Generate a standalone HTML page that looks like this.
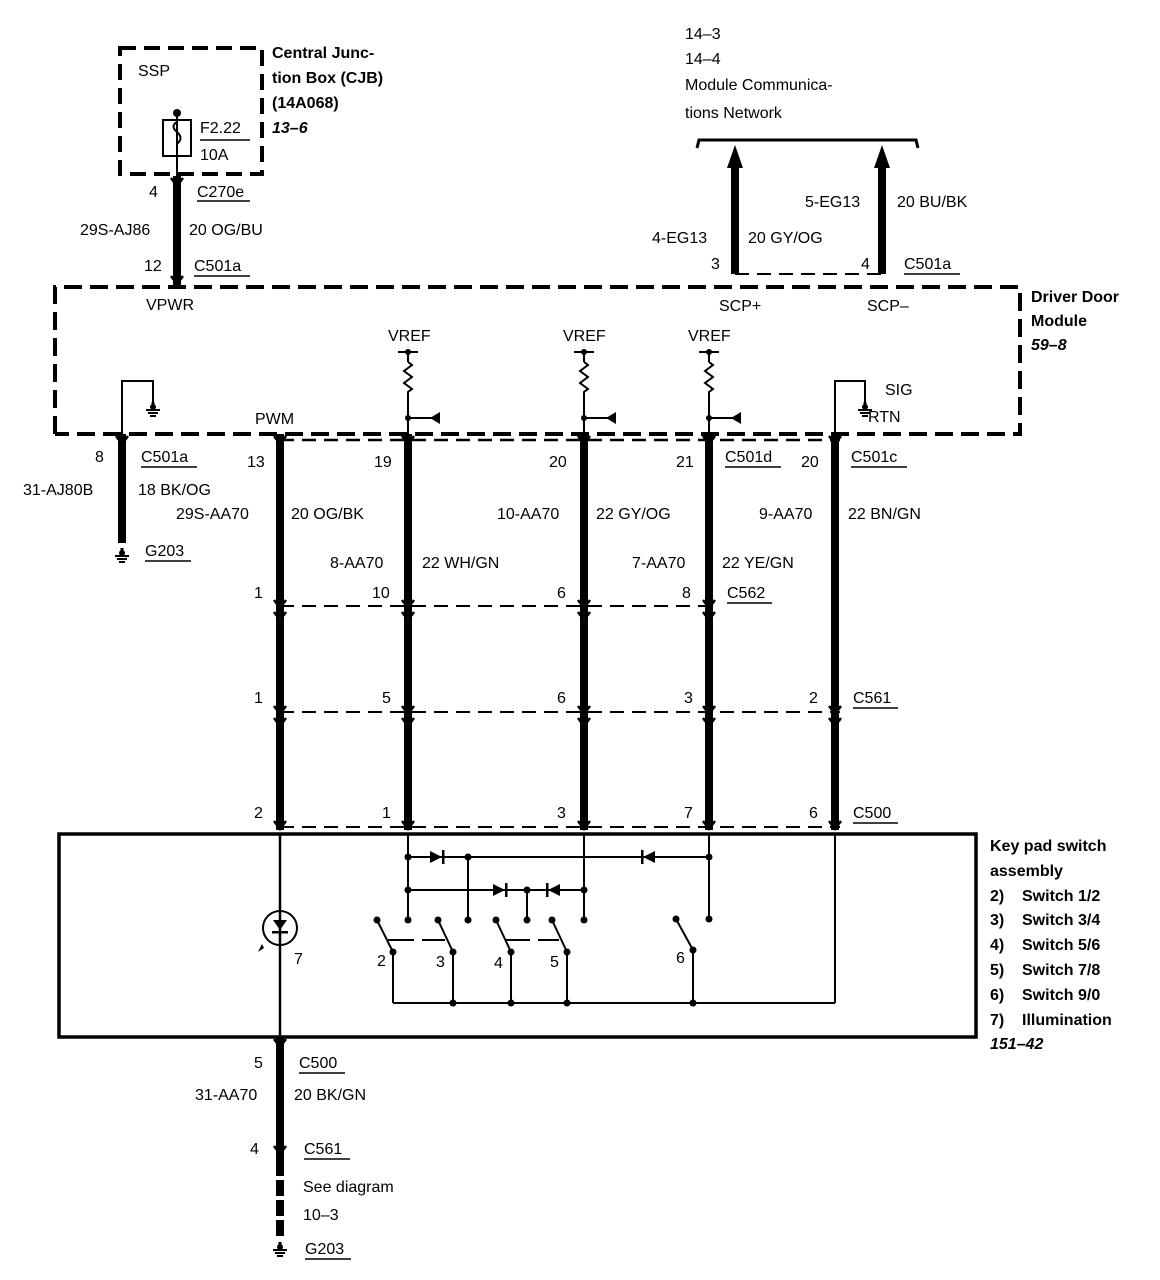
<!DOCTYPE html>
<html><head><meta charset="utf-8"><style>
html,body{margin:0;padding:0;background:#fff}
svg{display:block}
text{font-family:"Liberation Sans",sans-serif;font-size:16px;fill:#000}
.b{font-weight:bold}
.bi{font-weight:bold;font-style:italic}
</style></head><body>
<svg width="1160" height="1280" viewBox="0 0 1160 1280" xmlns="http://www.w3.org/2000/svg">
<defs>
<g id="gnd"><line x1="0" y1="-8" x2="0" y2="0" stroke="#000" stroke-width="3"/><circle cx="0" cy="-3" r="3"/><line x1="-7" y1="0" x2="7" y2="0" stroke="#000" stroke-width="2"/><line x1="-5" y1="3" x2="5" y2="3" stroke="#000" stroke-width="2"/><line x1="-3" y1="6" x2="3" y2="6" stroke="#000" stroke-width="2"/></g>
<g id="cn"><path d="M-6,-4 L0,4 L6,-4" fill="none" stroke="#000" stroke-width="2.5"/></g>
</defs>
<g fill="none" stroke="#000">
<rect x="120" y="48" width="142" height="126" stroke-width="4" stroke-dasharray="16,8"/>
<rect x="163" y="120" width="28" height="36" stroke-width="2"/>
<path d="M177,112 L177,122 Q170,126 177,132 Q184,138 177,144 L177,174" stroke-width="2"/>
<line x1="200" y1="140" x2="250" y2="140" stroke-width="1.5"/>
<path d="M55,434 L55,287 L1020,287 L1020,434 L55,434" stroke-width="4" stroke-dasharray="18,8"/>
<rect x="59" y="834" width="917" height="203" stroke-width="3.5"/>
<path d="M697,148 L699,140 L916,140 L918,148" stroke-width="3"/>
<line x1="280" y1="440" x2="840" y2="440" stroke-width="2.5" stroke-dasharray="14,8"/>
<line x1="280" y1="606" x2="715" y2="606" stroke-width="2" stroke-dasharray="14,8"/>
<line x1="280" y1="712" x2="840" y2="712" stroke-width="2" stroke-dasharray="14,8"/>
<line x1="280" y1="827" x2="840" y2="827" stroke-width="2" stroke-dasharray="14,8"/>
<line x1="735" y1="274" x2="882" y2="274" stroke-width="2" stroke-dasharray="14,8"/>
<line x1="177" y1="176" x2="177" y2="286" stroke-width="8"/>
<line x1="122" y1="434" x2="122" y2="543" stroke-width="8"/>
<line x1="280" y1="434" x2="280" y2="830" stroke-width="8"/>
<line x1="408" y1="434" x2="408" y2="830" stroke-width="8"/>
<line x1="584" y1="434" x2="584" y2="830" stroke-width="8"/>
<line x1="709" y1="434" x2="709" y2="830" stroke-width="8"/>
<line x1="835" y1="434" x2="835" y2="830" stroke-width="8"/>
<line x1="280" y1="1037" x2="280" y2="1160" stroke-width="8"/>
<line x1="280" y1="1160" x2="280" y2="1240" stroke-width="8" stroke-dasharray="16,4"/>
<line x1="735" y1="165" x2="735" y2="274" stroke-width="8"/>
<line x1="882" y1="165" x2="882" y2="274" stroke-width="8"/>
<line x1="177" y1="112" x2="177" y2="176" stroke-width="2"/>
<line x1="280" y1="834" x2="280" y2="1037" stroke-width="2.5"/>
<path d="M122,434 L122,381 L153,381 L153,405" stroke-width="2"/>
<path d="M835,434 L835,381 L865,381 L865,405" stroke-width="2"/>
<line x1="408" y1="352" x2="408" y2="434" stroke-width="2"/>
<line x1="584" y1="352" x2="584" y2="434" stroke-width="2"/>
<line x1="709" y1="352" x2="709" y2="434" stroke-width="2"/>
</g>
<g fill="none" stroke="#fff" stroke-width="4">
<line x1="408" y1="362" x2="408" y2="398"/><line x1="584" y1="362" x2="584" y2="398"/><line x1="709" y1="362" x2="709" y2="398"/>
</g>
<g fill="none" stroke="#000" stroke-width="2">
<path d="M408,362 l4,3 l-8,6 l8,6 l-8,6 l8,6 l-4,3 v6"/>
<path d="M584,362 l4,3 l-8,6 l8,6 l-8,6 l8,6 l-4,3 v6"/>
<path d="M709,362 l4,3 l-8,6 l8,6 l-8,6 l8,6 l-4,3 v6"/>
<line x1="398" y1="352" x2="418" y2="352"/><line x1="574" y1="352" x2="594" y2="352"/><line x1="699" y1="352" x2="719" y2="352"/>
<line x1="408" y1="418" x2="436" y2="418"/><line x1="584" y1="418" x2="612" y2="418"/><line x1="709" y1="418" x2="737" y2="418"/>
</g>
<g>
<circle cx="408" cy="352" r="3"/><circle cx="584" cy="352" r="3"/><circle cx="709" cy="352" r="3"/>
<circle cx="408" cy="418" r="3"/><circle cx="584" cy="418" r="3"/><circle cx="709" cy="418" r="3"/>
<path d="M430,418 L440,412 L440,424Z"/><path d="M606,418 L616,412 L616,424Z"/><path d="M731,418 L741,412 L741,424Z"/>
<circle cx="177" cy="113" r="4"/>
<path d="M735,145 L727,168 L743,168Z"/><path d="M882,145 L874,168 L890,168Z"/>
<use href="#gnd" x="153" y="410"/><use href="#gnd" x="865" y="410"/>
<use href="#gnd" x="122" y="556"/><use href="#gnd" x="280" y="1250"/>
<use href="#cn" x="177" y="182"/><use href="#cn" x="177" y="280"/>
<use href="#cn" x="122" y="440"/><use href="#cn" x="280" y="440"/><use href="#cn" x="408" y="440"/><use href="#cn" x="584" y="440"/><use href="#cn" x="709" y="440"/><use href="#cn" x="835" y="440"/>
<use href="#cn" x="280" y="604"/><use href="#cn" x="408" y="604"/><use href="#cn" x="584" y="604"/><use href="#cn" x="709" y="604"/>
<use href="#cn" x="280" y="616"/><use href="#cn" x="408" y="616"/><use href="#cn" x="584" y="616"/><use href="#cn" x="709" y="616"/>
<use href="#cn" x="280" y="710"/><use href="#cn" x="408" y="710"/><use href="#cn" x="584" y="710"/><use href="#cn" x="709" y="710"/><use href="#cn" x="835" y="710"/>
<use href="#cn" x="280" y="722"/><use href="#cn" x="408" y="722"/><use href="#cn" x="584" y="722"/><use href="#cn" x="709" y="722"/><use href="#cn" x="835" y="722"/>
<use href="#cn" x="280" y="825"/><use href="#cn" x="408" y="825"/><use href="#cn" x="584" y="825"/><use href="#cn" x="709" y="825"/><use href="#cn" x="835" y="825"/>
<use href="#cn" x="280" y="1043"/><use href="#cn" x="280" y="1150"/>
</g>
<g fill="none" stroke="#000" stroke-width="2">
<line x1="408" y1="834" x2="408" y2="920"/>
<line x1="584" y1="834" x2="584" y2="920"/>
<line x1="709" y1="834" x2="709" y2="919"/>
<line x1="835" y1="834" x2="835" y2="1003"/>
<line x1="408" y1="857" x2="709" y2="857"/>
<line x1="408" y1="890" x2="584" y2="890"/>
<line x1="468" y1="857" x2="468" y2="920"/>
<line x1="527" y1="890" x2="527" y2="920"/>
<path d="M393,1003 L835,1003"/>
<line x1="377" y1="920" x2="393" y2="952"/><line x1="393" y1="952" x2="393" y2="1003"/>
<line x1="438" y1="920" x2="453" y2="952"/><line x1="453" y1="952" x2="453" y2="1003"/>
<line x1="496" y1="920" x2="511" y2="952"/><line x1="511" y1="952" x2="511" y2="1003"/>
<line x1="552" y1="920" x2="567" y2="952"/><line x1="567" y1="952" x2="567" y2="1003"/>
<line x1="676" y1="919" x2="693" y2="950"/><line x1="693" y1="950" x2="693" y2="1003"/>
<line x1="388" y1="940" x2="414" y2="940"/><line x1="422" y1="940" x2="445" y2="940"/>
<line x1="505" y1="940" x2="530" y2="940"/><line x1="538" y1="940" x2="559" y2="940"/>
<circle cx="280" cy="928" r="17"/>
</g>
<g>
<path d="M430,851 L442,857 L430,863Z"/><rect x="442" y="850" width="2.5" height="14"/>
<path d="M655,851 L643,857 L655,863Z"/><rect x="641" y="850" width="2.5" height="14"/>
<path d="M493,884 L505,890 L493,896Z"/><rect x="505" y="883" width="2.5" height="14"/>
<path d="M560,884 L548,890 L560,896Z"/><rect x="546" y="883" width="2.5" height="14"/>
<path d="M273,920 L287,920 L280,930Z"/><rect x="272" y="931" width="16" height="2.5"/>
<path d="M264,948 L258,952 L262,944Z"/>
<circle cx="408" cy="857" r="3.5"/><circle cx="468" cy="857" r="3.5"/><circle cx="709" cy="857" r="3.5"/>
<circle cx="408" cy="890" r="3.5"/><circle cx="527" cy="890" r="3.5"/><circle cx="584" cy="890" r="3.5"/>
<circle cx="408" cy="920" r="3.5"/><circle cx="468" cy="920" r="3.5"/><circle cx="527" cy="920" r="3.5"/><circle cx="584" cy="920" r="3.5"/><circle cx="709" cy="919" r="3.5"/>
<circle cx="377" cy="920" r="3.5"/><circle cx="438" cy="920" r="3.5"/><circle cx="496" cy="920" r="3.5"/><circle cx="552" cy="920" r="3.5"/><circle cx="676" cy="919" r="3.5"/>
<circle cx="393" cy="952" r="3.5"/><circle cx="453" cy="952" r="3.5"/><circle cx="511" cy="952" r="3.5"/><circle cx="567" cy="952" r="3.5"/><circle cx="693" cy="950" r="3.5"/>
<circle cx="453" cy="1003" r="3.5"/><circle cx="511" cy="1003" r="3.5"/><circle cx="567" cy="1003" r="3.5"/><circle cx="693" cy="1003" r="3.5"/>
</g>
<g stroke="#000" stroke-width="1.5">
<line x1="197" y1="201" x2="250" y2="201"/><line x1="194" y1="276" x2="250" y2="276"/>
<line x1="904" y1="274" x2="960" y2="274"/>
<line x1="141" y1="467" x2="197" y2="467"/><line x1="725" y1="467" x2="781" y2="467"/><line x1="851" y1="467" x2="907" y2="467"/>
<line x1="145" y1="561" x2="191" y2="561"/>
<line x1="727" y1="603" x2="772" y2="603"/><line x1="853" y1="708" x2="898" y2="708"/><line x1="853" y1="823" x2="898" y2="823"/>
<line x1="299" y1="1073" x2="345" y2="1073"/><line x1="304" y1="1159" x2="350" y2="1159"/><line x1="305" y1="1259" x2="351" y2="1259"/>
</g>
<text x="138" y="76">SSP</text>
<text class="b" x="272" y="58">Central Junc-</text>
<text class="b" x="272" y="83">tion Box (CJB)</text>
<text class="b" x="272" y="108">(14A068)</text>
<text class="bi" x="272" y="133">13–6</text>
<text x="200" y="133">F2.22</text><text x="200" y="160">10A</text>
<text x="149" y="197">4</text><text x="197" y="197">C270e</text>
<text x="80" y="235">29S-AJ86</text><text x="189" y="235">20 OG/BU</text>
<text x="144" y="271">12</text><text x="194" y="271">C501a</text>
<text x="146" y="310">VPWR</text>
<text x="685" y="39">14–3</text><text x="685" y="64">14–4</text>
<text x="685" y="90">Module Communica-</text><text x="685" y="118">tions Network</text>
<text x="652" y="243">4-EG13</text><text x="748" y="243">20 GY/OG</text>
<text x="805" y="207">5-EG13</text><text x="897" y="207">20 BU/BK</text>
<text x="711" y="269">3</text><text x="861" y="269">4</text><text x="904" y="269">C501a</text>
<text x="719" y="311">SCP+</text><text x="867" y="311">SCP–</text>
<text class="b" x="1031" y="302">Driver Door</text><text class="b" x="1031" y="326">Module</text><text class="bi" x="1031" y="350">59–8</text>
<text x="388" y="341">VREF</text><text x="563" y="341">VREF</text><text x="688" y="341">VREF</text>
<text x="885" y="395">SIG</text><text x="868" y="422">RTN</text>
<text x="255" y="424">PWM</text>
<text x="95" y="462">8</text><text x="141" y="462">C501a</text>
<text x="247" y="467">13</text><text x="374" y="467">19</text><text x="549" y="467">20</text><text x="676" y="467">21</text>
<text x="725" y="462">C501d</text><text x="801" y="467">20</text><text x="851" y="462">C501c</text>
<text x="23" y="495">31-AJ80B</text><text x="138" y="495">18 BK/OG</text>
<text x="176" y="519">29S-AA70</text><text x="291" y="519">20 OG/BK</text>
<text x="497" y="519">10-AA70</text><text x="596" y="519">22 GY/OG</text>
<text x="759" y="519">9-AA70</text><text x="848" y="519">22 BN/GN</text>
<text x="145" y="556">G203</text>
<text x="330" y="568">8-AA70</text><text x="422" y="568">22 WH/GN</text>
<text x="632" y="568">7-AA70</text><text x="722" y="568">22 YE/GN</text>
<text x="254" y="598">1</text><text x="372" y="598">10</text><text x="557" y="598">6</text><text x="682" y="598">8</text><text x="727" y="598">C562</text>
<text x="254" y="703">1</text><text x="382" y="703">5</text><text x="557" y="703">6</text><text x="684" y="703">3</text><text x="809" y="703">2</text><text x="853" y="703">C561</text>
<text x="254" y="818">2</text><text x="382" y="818">1</text><text x="557" y="818">3</text><text x="684" y="818">7</text><text x="809" y="818">6</text><text x="853" y="818">C500</text>
<text class="b" x="990" y="851">Key pad switch</text>
<text class="b" x="990" y="876">assembly</text>
<text class="b" x="990" y="901">2)&#160;&#160;&#160;&#160;Switch 1/2</text>
<text class="b" x="990" y="925">3)&#160;&#160;&#160;&#160;Switch 3/4</text>
<text class="b" x="990" y="950">4)&#160;&#160;&#160;&#160;Switch 5/6</text>
<text class="b" x="990" y="975">5)&#160;&#160;&#160;&#160;Switch 7/8</text>
<text class="b" x="990" y="1000">6)&#160;&#160;&#160;&#160;Switch 9/0</text>
<text class="b" x="990" y="1025">7)&#160;&#160;&#160;&#160;Illumination</text>
<text class="bi" x="990" y="1049">151–42</text>
<text x="294" y="964">7</text>
<text x="377" y="966">2</text><text x="436" y="967">3</text><text x="494" y="968">4</text><text x="550" y="967">5</text><text x="676" y="963">6</text>
<text x="254" y="1068">5</text><text x="299" y="1068">C500</text>
<text x="195" y="1100">31-AA70</text><text x="294" y="1100">20 BK/GN</text>
<text x="250" y="1154">4</text><text x="304" y="1154">C561</text>
<text x="303" y="1192">See diagram</text><text x="303" y="1220">10–3</text>
<text x="305" y="1254">G203</text>
</svg>
</body></html>
